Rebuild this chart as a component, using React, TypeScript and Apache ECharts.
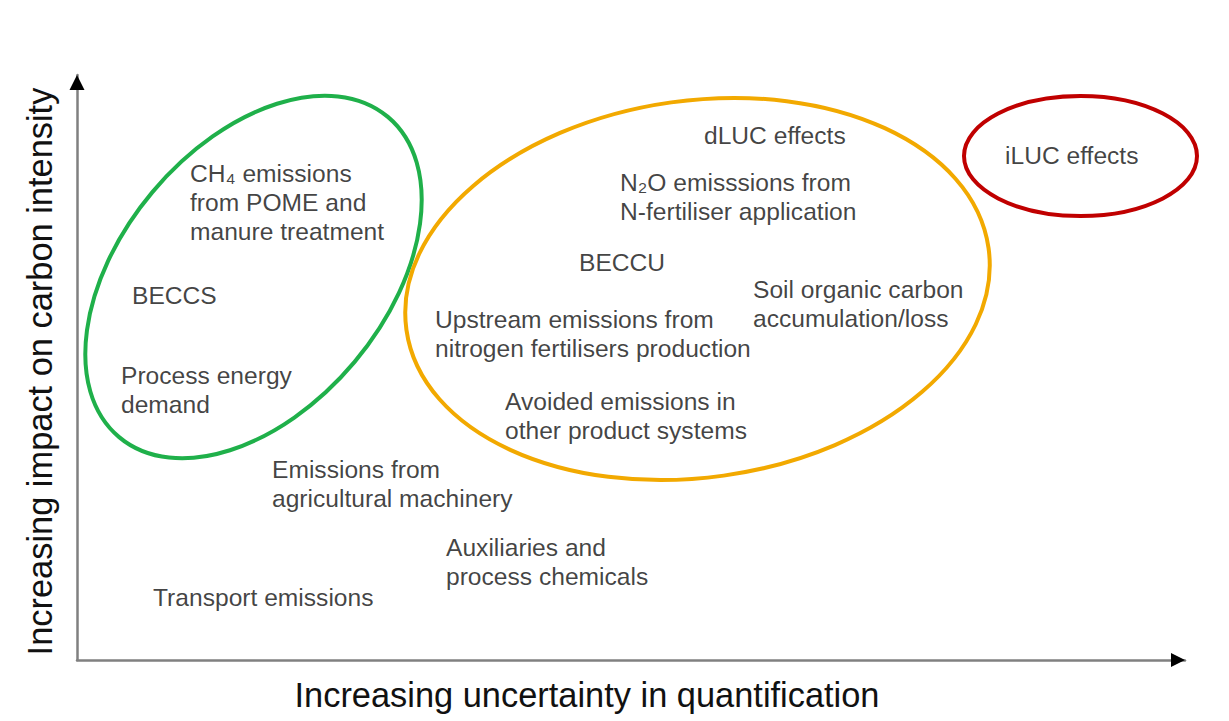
import React, { useEffect, useRef } from "react";
import * as echarts from "echarts";

// Conceptual axes (units along each axis)
const X_MAX = 1108;
const Y_MAX = 585;

const xTitle = "Increasing uncertainty in quantification";
const yTitle = "Increasing impact on carbon intensity";

// Items placed in the uncertainty / impact space (left edge, top of first line)
const itemNames = [
  "CH₄ emissions\nfrom POME and\nmanure treatment",
  "BECCS",
  "Process energy\ndemand",
  "Emissions from\nagricultural machinery",
  "Auxiliaries and\nprocess chemicals",
  "Transport emissions",
  "dLUC effects",
  "N₂O emisssions from\nN-fertiliser application",
  "BECCU",
  "Soil organic carbon\naccumulation/loss",
  "Upstream emissions from\nnitrogen fertilisers production",
  "Avoided emissions in\nother product systems",
  "iLUC effects",
];
const itemX = [113, 55, 44, 195, 369, 76, 627, 543, 502, 676, 358, 428, 928];
const itemY = [501.5, 379.5, 299.5, 205.5, 127.5, 77.5, 539.5, 492.5, 412.5, 385.5, 355.5, 273.5, 519.5];

// Groupings (ellipses): centre, semi-axes, tilt in degrees
const groupNames = ["low uncertainty", "medium uncertainty", "high uncertainty"];
const groupCX = [176.5, 620.5, 1003.5];
const groupCY = [383, 371, 504];
const groupRX = [209, 294, 116.5];
const groupRY = [132, 188.5, 60];
const groupTilt = [50, 8, 0];

const groupColors = ["#1fb04a", "#f2a900", "#c00000"];

export default function App() {
  const ref = useRef<HTMLDivElement>(null);

  useEffect(() => {
    if (!ref.current) return;
    const chart = echarts.init(ref.current, undefined, { renderer: "svg" });
    const font = "'Liberation Sans', Arial, sans-serif";

    const labelData = itemNames.map((n, i) => ({ name: n, value: [itemX[i], itemY[i]] }));
    const groupData = groupNames.map((n, i) => ({
      name: n,
      value: [groupCX[i], groupCY[i], groupRX[i], groupRY[i], groupTilt[i]],
    }));

    chart.setOption({
      animation: false,
      backgroundColor: "#ffffff",
      grid: { left: 77, right: 44, top: 75, bottom: 61 },
      xAxis: {
        type: "value",
        min: 0,
        max: X_MAX,
        name: xTitle,
        nameLocation: "middle",
        nameGap: 18,
        nameTextStyle: {
          fontFamily: font,
          fontSize: 34.4,
          color: "#111111",
          padding: [0, 88, 0, 0],
        },
        axisLine: { show: true, lineStyle: { color: "#808080", width: 2.5 } },
        axisTick: { show: false },
        axisLabel: { show: false },
        splitLine: { show: false },
      },
      yAxis: {
        type: "value",
        min: 0,
        max: Y_MAX,
        name: yTitle,
        nameLocation: "middle",
        nameGap: 20,
        nameTextStyle: {
          fontFamily: font,
          fontSize: 34.4,
          color: "#111111",
          padding: [0, 8, 0, 0],
        },
        axisLine: { show: true, lineStyle: { color: "#808080", width: 2.5 } },
        axisTick: { show: false },
        axisLabel: { show: false },
        splitLine: { show: false },
      },
      series: [
        {
          type: "custom",
          name: "groups",
          clip: false,
          encode: { x: 0, y: 1 },
          data: groupData,
          renderItem: (params: any, api: any) => {
            const c = api.coord([api.value(0), api.value(1)]);
            const s = api.size([api.value(2), api.value(3)]);
            return {
              type: "ellipse",
              x: c[0],
              y: c[1],
              rotation: (api.value(4) * Math.PI) / 180,
              shape: { cx: 0, cy: 0, rx: s[0], ry: s[1] },
              style: { fill: "none", stroke: groupColors[params.dataIndex], lineWidth: 4 },
            };
          },
        },
        {
          type: "custom",
          name: "arrows",
          clip: false,
          encode: { x: 0, y: 1 },
          data: [
            [X_MAX, 0, 0],
            [0, Y_MAX, 1],
          ],
          renderItem: (params: any, api: any) => {
            const p = api.coord([api.value(0), api.value(1)]);
            const pts =
              api.value(2) === 0
                ? [
                    [p[0], p[1]],
                    [p[0] - 14, p[1] - 7],
                    [p[0] - 14, p[1] + 7],
                  ]
                : [
                    [p[0], p[1]],
                    [p[0] - 7.5, p[1] + 15],
                    [p[0] + 7.5, p[1] + 15],
                  ];
            return { type: "polygon", shape: { points: pts }, style: { fill: "#000000" } };
          },
        },
        {
          type: "scatter",
          name: "items",
          symbolSize: 0,
          itemStyle: { color: "rgba(0,0,0,0)" },
          data: labelData,
          label: {
            show: true,
            position: [0, 0],
            align: "left",
            verticalAlign: "top",
            formatter: (p: any) => p.name,
            fontFamily: font,
            fontSize: 24.6,
            lineHeight: 29,
            color: "#111111",
          },
        },
      ],
    });

    return () => chart.dispose();
  }, []);

  return (
    <div
      ref={ref}
      style={{ position: "fixed", left: 0, top: 0, width: 1229, height: 721, background: "#fff" }}
    />
  );
}
